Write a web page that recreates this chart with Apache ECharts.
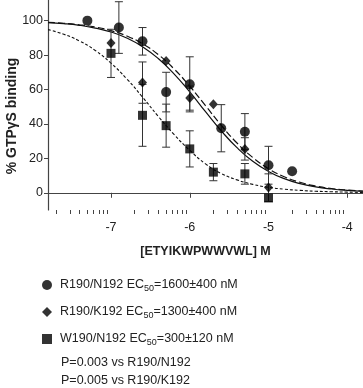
<!DOCTYPE html>
<html>
<head>
<meta charset="utf-8">
<script src="https://cdn.jsdelivr.net/npm/echarts@6/dist/echarts.min.js"></script>
<style>
  html, body { margin: 0; padding: 0; background: #fff; }
  #chart { width: 363px; height: 388px; }
</style>
</head>
<body>
<div id="chart"></div>
<script>
// log10 of peptide concentration (M)
var xMajorTicks = [-7, -6, -5, -4];
var xMinorMantissa = [2, 3, 4, 5, 6, 7, 8, 9];
var yTicks = [0, 20, 40, 60, 80, 100];

var seriesNames = ["R190/N192", "R190/K192", "W190/N192"];
var ec50Labels = ["1600±400", "1300±400", "300±120"];
var pLines = ["P=0.003 vs R190/N192", "P=0.005 vs R190/K192"];

// R190/N192 (circles)
var n192X = [-7.3, -6.9, -6.6, -6.3, -6.0, -5.6, -5.3, -5.0, -4.7];
var n192Y = [100, 96, 88, 58.5, 63, 37.5, 35.5, 16, 12.5];
var n192Err = [0, 15, 8, 11.5, 16, 13.7, 10.5, 11, 0];

// R190/K192 (diamonds)
var k192X = [-7.0, -6.6, -6.3, -6.0, -5.7, -5.3, -5.0];
var k192Y = [87, 64, 76.5, 55, 51.5, 25.5, 3];
var k192Err = [0, 12, 0, 7, 0, 6.5, 8];

// W190/N192 (squares)
var w190X = [-7.0, -6.6, -6.3, -6.0, -5.7, -5.3, -5.0];
var w190Y = [81, 45, 39, 25.5, 12, 11, -3];
var w190Err = [14, 18, 12.5, 10.5, 5, 6, 0];

// fitted curves
var curveX = [-7.8, -7.6, -7.4, -7.2, -7.0, -6.8, -6.6, -6.4, -6.2, -6.0, -5.8,
  -5.6, -5.4, -5.2, -5.0, -4.8, -4.6, -4.4, -4.2, -4.0, -3.8];
var curveN192 = [98.9, 98.3, 97.3, 95.7, 93.4, 89.9, 84.9, 78.0, 69.1, 58.6, 47.1,
  36.0, 26.2, 18.3, 12.4, 8.2, 5.3, 3.4, 2.2, 1.4, 0.9];
var curveK192 = [99.0, 98.5, 97.6, 96.3, 94.2, 91.1, 86.6, 80.3, 72.0, 61.9, 50.6,
  39.2, 28.9, 20.5, 14.0, 9.3, 6.1, 3.9, 2.5, 1.6, 1.0];
var curveW190 = [94.8, 92.1, 88.2, 82.7, 75.3, 66.2, 55.6, 44.4, 33.9, 24.7, 16.8,
  11.2, 7.5, 4.9, 3.2, 2.1, 1.4, 0.9, 0.6, 0.4, 0.2];

var FONT = "Liberation Sans, Arial, sans-serif";
var INK = "#222";

function pairs(xs, ys) {
  return xs.map(function (x, i) { return [x, ys[i]]; });
}
function errData(xs, ys, es) {
  var out = [];
  xs.forEach(function (x, i) {
    if (es[i] > 0) out.push([x, ys[i] - es[i], ys[i] + es[i]]);
  });
  return out;
}

// log minor ticks between the decades
var xMinorTicks = [];
[-8, -7, -6, -5, -4].forEach(function (d) {
  xMinorMantissa.forEach(function (m) {
    var v = d + Math.log10(m);
    if (v >= -7.8 && v <= -3.8) xMinorTicks.push(v);
  });
});

function renderErr(params, api) {
  var x = api.value(0);
  var top = api.coord([x, api.value(2)]);
  var bot = api.coord([x, api.value(1)]);
  var w = 4;
  var st = { stroke: "#333", lineWidth: 1 };
  return {
    type: "group",
    children: [
      { type: "line", shape: { x1: top[0], y1: top[1], x2: bot[0], y2: bot[1] }, style: st },
      { type: "line", shape: { x1: top[0] - w, y1: top[1], x2: top[0] + w, y2: top[1] }, style: st },
      { type: "line", shape: { x1: bot[0] - w, y1: bot[1], x2: bot[0] + w, y2: bot[1] }, style: st }
    ]
  };
}

var myChart = echarts.init(document.getElementById("chart"));
myChart.setOption({
  animation: false,
  textStyle: { fontFamily: FONT },
  grid: { left: 48, right: 0, top: 0, height: 210 },
  xAxis: [
    {
      type: "value",
      min: -7.8,
      max: -3.8,
      name: "[ETYIKWPWWVWL] M",
      nameLocation: "middle",
      nameGap: 35,
      nameTextStyle: { fontFamily: FONT, fontWeight: "bold", fontSize: 12.5, color: INK },
      axisLine: { lineStyle: { color: "#444", width: 1.2 } },
      axisTick: { customValues: xMajorTicks, length: 5, lineStyle: { color: "#444" } },
      axisLabel: {
        customValues: xMajorTicks,
        margin: 11,
        fontSize: 12.5,
        color: INK,
        formatter: function (v) { return String(v); }
      },
      splitLine: { show: false }
    },
    {
      // second axis only for the log minor ticks
      type: "value",
      position: "bottom",
      min: -7.8,
      max: -3.8,
      axisLine: { show: false },
      axisTick: { show: true, customValues: xMinorTicks, length: 4, lineStyle: { color: "#444" } },
      axisLabel: { show: false },
      splitLine: { show: false }
    }
  ],
  yAxis: {
    type: "value",
    min: -10,
    max: 112,
    axisLine: { show: true, lineStyle: { color: "#444", width: 1.2 } },
    axisTick: { show: true, customValues: yTicks, length: 4, lineStyle: { color: "#444" } },
    axisLabel: { customValues: yTicks, margin: 5, fontSize: 12.5, color: INK },
    splitLine: { show: false }
  },
  legend: {
    data: seriesNames,
    orient: "vertical",
    left: 37,
    top: 272,
    itemWidth: 10,
    itemHeight: 10,
    itemGap: 11,
    formatter: function (name) {
      var i = seriesNames.indexOf(name);
      return name + " EC{sub|50}=" + ec50Labels[i] + " nM";
    },
    textStyle: {
      fontFamily: FONT,
      fontSize: 12.5,
      color: INK,
      lineHeight: 16,
      padding: [0, 0, 0, 3],
      rich: {
        sub: { fontFamily: FONT, fontSize: 9, color: INK, verticalAlign: "bottom", lineHeight: 12 }
      }
    }
  },
  graphic: pLines.map(function (t, i) {
    return {
      type: "text",
      left: 61,
      top: 356 + i * 18,
      style: { text: t, font: "12.5px " + FONT, fill: INK }
    };
  }).concat([{
    type: "text",
    x: 12,
    y: 116,
    rotation: Math.PI / 2,
    style: {
      text: "% GTPγS binding",
      font: "bold 14px " + FONT,
      fill: INK,
      align: "center",
      verticalAlign: "middle"
    }
  }]),
  series: [
    {
      name: "fitN192", type: "line", data: pairs(curveX, curveN192), smooth: true,
      showSymbol: false, silent: true, z: 1,
      lineStyle: { color: "#111", width: 1.2, type: "solid" }
    },
    {
      name: "fitK192", type: "line", data: pairs(curveX, curveK192), smooth: true,
      showSymbol: false, silent: true, z: 1,
      lineStyle: { color: "#111", width: 1.2, type: [7, 3] }
    },
    {
      name: "fitW190", type: "line", data: pairs(curveX, curveW190), smooth: true,
      showSymbol: false, silent: true, z: 1,
      lineStyle: { color: "#111", width: 1.1, type: [3, 2] }
    },
    { type: "custom", renderItem: renderErr, data: errData(n192X, n192Y, n192Err), z: 2, encode: { x: 0, y: [1, 2] } },
    { type: "custom", renderItem: renderErr, data: errData(k192X, k192Y, k192Err), z: 2, encode: { x: 0, y: [1, 2] } },
    { type: "custom", renderItem: renderErr, data: errData(w190X, w190Y, w190Err), z: 2, encode: { x: 0, y: [1, 2] } },
    {
      name: seriesNames[0], type: "scatter", symbol: "circle", symbolSize: 10, z: 3,
      itemStyle: { color: "#000" }, data: pairs(n192X, n192Y)
    },
    {
      name: seriesNames[1], type: "scatter", symbol: "diamond", symbolSize: [9, 10], z: 3,
      itemStyle: { color: "#000" }, data: pairs(k192X, k192Y)
    },
    {
      name: seriesNames[2], type: "scatter", symbol: "rect", symbolSize: 9, z: 3,
      itemStyle: { color: "#000" }, data: pairs(w190X, w190Y)
    }
  ]
});
</script>
</body>
</html>
